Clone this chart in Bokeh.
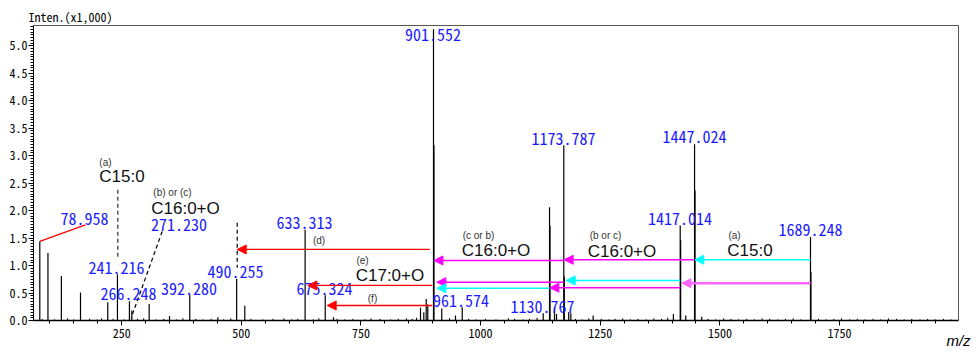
from bokeh.plotting import figure
from bokeh.models import FixedTicker, Range1d, Arrow, NormalHead, PrintfTickFormatter
from bokeh.core.properties import value
from bokeh.embed import file_html
from bokeh.resources import INLINE

# ---------------- data ----------------
peak_mz = [78.958, 96.0, 124.0, 164.0, 221.0, 241.216, 266.248, 271.230, 307.5, 350.0,
           392.280, 451.0, 490.255, 507.3, 633.313, 675.324, 692.6, 874.4, 881.3, 886.3,
           889.6, 901.552, 918.8, 947.5, 961.574, 1130.767, 1144.0, 1154.4, 1158.6, 1173.787,
           1184.0, 1188.5, 1235.2, 1402.8, 1417.014, 1428.6, 1447.024, 1462.0, 1689.248]
peak_int = [1.44, 1.23, 0.81, 0.51, 0.33, 0.84, 0.35, 0.18, 0.30, 0.08,
            0.47, 0.06, 0.76, 0.27, 1.65, 0.46, 0.06, 0.23, 0.15, 0.39,
            0.29, 5.30, 0.22, 0.09, 0.24, 0.13, 2.06, 0.24, 0.12, 3.19,
            0.15, 0.13, 0.09, 0.12, 1.73, 0.09, 3.21, 0.07, 1.52]

# isotope peaks (+1) that thicken the lower part of the main lines
iso_mz = [902.55, 1145.0, 1174.8, 1418.0, 1448.0, 1690.2]
iso_int = [3.19, 1.73, 0.80, 1.46, 2.37, 0.88]

# small baseline peaks
noise_mz = [84, 110, 137, 150, 183, 199, 208, 232, 255, 283, 296, 322, 338, 365, 378, 405,
            420, 437, 463, 478, 520, 545, 566, 589, 605, 618, 650, 662, 700, 716, 733, 758,
            771, 790, 812, 828, 845, 857, 866, 935, 975, 990, 1010, 1032, 1058, 1071, 1089,
            1102, 1118, 1198, 1212, 1226, 1252, 1268, 1281, 1297, 1313, 1329, 1346, 1362,
            1378, 1391, 1475, 1491, 1508, 1523, 1539, 1556, 1572, 1588, 1604, 1621, 1637,
            1653, 1669, 1706, 1722, 1738, 1754, 1771, 1787, 1803, 1820, 1836, 1852, 1869,
            1885, 1901, 1918, 1934, 1950, 1967, 1983]
noise_int = [0.03, 0.02, 0.04, 0.02, 0.03, 0.02, 0.04, 0.03, 0.02, 0.03, 0.04, 0.02, 0.03, 0.02,
             0.04, 0.03, 0.02, 0.03, 0.02, 0.04, 0.03, 0.02, 0.03, 0.04, 0.02, 0.03, 0.02, 0.04,
             0.03, 0.02, 0.03, 0.02, 0.04, 0.03, 0.02, 0.03, 0.04, 0.03, 0.05, 0.04, 0.03, 0.02,
             0.03, 0.02, 0.04, 0.03, 0.02, 0.03, 0.05, 0.03, 0.02, 0.04, 0.03, 0.02, 0.03, 0.04,
             0.02, 0.03, 0.02, 0.04, 0.03, 0.05, 0.03, 0.02, 0.04, 0.03, 0.02, 0.03, 0.02, 0.04,
             0.03, 0.02, 0.03, 0.04, 0.02, 0.03, 0.02, 0.03, 0.04, 0.02, 0.03, 0.02, 0.03, 0.02,
             0.04, 0.03, 0.02, 0.03, 0.02, 0.03, 0.02, 0.03, 0.02]

# peak m/z labels (blue)
lab_text = ["78.958", "241.216", "266.248", "271.230", "392.280", "490.255", "633.313",
            "675.324", "901.552", "961.574", "1130.767", "1173.787", "1417.014", "1447.024",
            "1689.248"]
lab_x = [172.3, 239.2, 264.3, 369.8, 390.7, 487.8, 632.0, 673.8, 900.5, 959.0, 1129.3,
         1173.2, 1416.6, 1446.9, 1689.3]
lab_y = [1.85, 0.95, 0.48, 1.73, 0.57, 0.88, 1.77, 0.565, 5.20, 0.346, 0.246, 3.30, 1.85,
         3.34, 1.65]

# fragment annotations (black)
big_text = ["C15:0", "C16:0+O", "C17:0+O", "C16:0+O", "C16:0+O", "C15:0"]
big_x = [250.7, 383.4, 810.6, 1032.1, 1295.4, 1562.9]
big_y = [2.63, 2.04, 0.82, 1.275, 1.248, 1.275]
small_text = ["(a)", "(b) or (c)", "(d)", "(e)", "(f)", "(c or b)", "(b or c)", "(a)"]
small_x = [216.2, 356.2, 662.3, 753.2, 774.1, 995.6, 1260.9, 1530.5]
small_y = [2.87, 2.33, 1.457, 1.10, 0.40, 1.548, 1.54, 1.548]

# arrows: (x_start, x_end, y, colour, width)
arrows = [
    (893.8, 491.4, 1.293, "#ff0000", 1.3),
    (898.8, 638.9, 0.638, "#ff0000", 1.3),
    (898.8, 679.4, 0.273, "#ff0000", 1.3),
    (1173.8, 902.5, 1.093, "#ff00ff", 1.5),
    (1447.0, 1174.5, 1.106, "#ff00ff", 1.5),
    (1689.2, 1447.5, 1.106, "#00ffff", 1.5),
    (1173.8, 908.6, 0.698, "#ff00ff", 1.5),
    (1417.0, 1178.8, 0.729, "#00ffff", 1.5),
    (1689.2, 1420.7, 0.679, "#ff66ff", 2.5),
    (1144.0, 908.6, 0.588, "#00ffff", 1.5),
    (1417.0, 1144.6, 0.596, "#ff00ff", 1.5),
]

x_major = [250, 500, 750, 1000, 1250, 1500, 1750]
x_minor = [100, 150, 200, 300, 350, 400, 450, 550, 600, 650, 700, 800, 850, 900, 950,
           1050, 1100, 1150, 1200, 1300, 1350, 1400, 1450, 1550, 1600, 1650, 1700, 1800,
           1850, 1900, 1950]
y_major = [0.0, 0.5, 1.0, 1.5, 2.0, 2.5, 3.0, 3.5, 4.0, 4.5, 5.0]
y_minor = [round(i * 0.05, 2) for i in range(0, 108)]

MONO = "'Noto Sans Mono CJK JP', 'DejaVu Sans Mono', monospace"
SANS = "'Liberation Sans', Arial, sans-serif"

p = figure(width=976, height=352, output_backend="svg", toolbar_location=None,
           x_range=Range1d(65.8, 1998.5), y_range=Range1d(0, 5.37),
           min_border_left=33, min_border_right=18, min_border_top=25, min_border_bottom=32,
           title="Inten.(x1,000)")
p.background_fill_color = "white"
p.border_fill_color = "white"
p.outline_line_color = "#555555"
p.outline_line_width = 1
p.xgrid.visible = False
p.ygrid.visible = False

# y-axis caption as a left-aligned title above the frame
p.title.align = "left"
p.title.offset = -5
p.title.text_font = MONO
p.title.text_font_size = "12px"
p.title.text_font_style = "normal"
p.title.text_color = "black"
try:
    p.title.standoff = 1
except Exception:
    pass

p.xaxis.ticker = FixedTicker(ticks=x_major, minor_ticks=x_minor)
p.yaxis.ticker = FixedTicker(ticks=y_major, minor_ticks=y_minor)
p.yaxis.formatter = PrintfTickFormatter(format="%.1f")
for ax in (p.xaxis, p.yaxis):
    ax.axis_line_color = "black"
    ax.axis_line_width = 1
    ax.major_tick_line_color = "black"
    ax.minor_tick_line_color = "black"
    ax.major_tick_in = 0
    ax.major_tick_out = 5
    ax.minor_tick_in = 0
    ax.minor_tick_out = 3
    ax.major_label_text_font = MONO
    ax.major_label_text_font_size = "12px"
    ax.major_label_text_color = "black"
p.xaxis.major_label_standoff = 3
p.yaxis.major_label_standoff = 1
p.xaxis.axis_line_width = 1.5

# x-axis caption at the right end
p.xaxis.axis_label = "m/z"
p.xaxis.axis_label_text_font = SANS
p.xaxis.axis_label_text_font_style = "italic"
p.xaxis.axis_label_text_font_size = "15px"
p.xaxis.axis_label_text_color = "black"
p.xaxis.axis_label_standoff = -9
try:
    p.xaxis.axis_label_align = "end"
except Exception:
    pass

# peaks
p.segment(x0=noise_mz, y0=[0] * len(noise_mz), x1=noise_mz, y1=noise_int,
          line_color="black", line_width=1)
p.segment(x0=peak_mz, y0=[0] * len(peak_mz), x1=peak_mz, y1=peak_int,
          line_color="black", line_width=1.2)
p.segment(x0=iso_mz, y0=[0] * len(iso_mz), x1=iso_mz, y1=iso_int,
          line_color="black", line_width=1.2)

# guide lines
p.line(x=[78.958, 174.4], y=[1.44, 1.74], line_color="#ff0000", line_width=1.2)
p.line(x=[241.9, 241.9], y=[2.38, 1.11], line_color="#555555", line_width=1.5, line_dash="4 3")
p.line(x=[334.7, 269.9], y=[1.62, 0.05], line_color="black", line_width=1.2, line_dash="4 3")
p.line(x=[491.4, 491.4], y=[1.78, 0.96], line_color="black", line_width=1.2, line_dash="4 3")

for xs, xe, yy, c, w in arrows:
    p.add_layout(Arrow(end=NormalHead(size=9, fill_color=c, line_color=c),
                       x_start=xs, y_start=yy, x_end=xe, y_end=yy,
                       line_color=c, line_width=w))

p.text(x=lab_x, y=lab_y, text=lab_text, text_font=value(MONO), text_font_size="16px",
       text_color="#1a1aff", text_align="center", text_baseline="middle")
p.text(x=big_x, y=big_y, text=big_text, text_font=value(SANS), text_font_size="17px",
       text_color="#111111", text_align="center", text_baseline="middle")
p.text(x=small_x, y=small_y, text=small_text, text_font=value(SANS), text_font_size="10px",
       text_color="#333333", text_align="center", text_baseline="middle")

open("out.html", "w").write(file_html(p, INLINE))
